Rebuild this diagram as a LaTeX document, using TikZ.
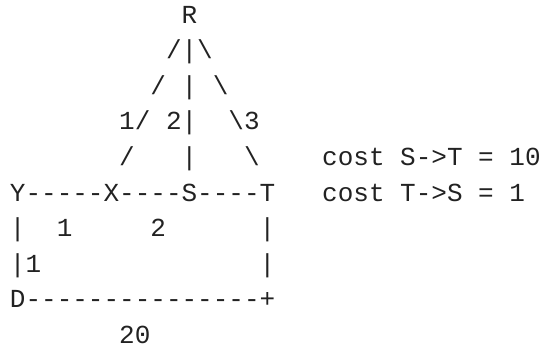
\documentclass[tikz,border=0pt]{standalone}
\usepackage{fontspec}
\newfontfamily\asciifont{Liberation Mono}
\definecolor{inkgray}{RGB}{34,34,34}

\begin{document}
\begin{tikzpicture}[x=15.6pt, y=-35.6pt,
    every node/.style={font=\asciifont\fontsize{26}{30}\selectfont, text=inkgray,
      inner sep=0pt, text height=0.62em, text depth=0pt}]
  \useasboundingbox (-1.14,0.44) rectangle (33.6,10.19);
  % the routers
  \node (R) at (11,1) {R};
  \node (Y) at (0,6) {Y};
  \node (X) at (6,6) {X};
  \node (S) at (11,6) {S};
  \node (T) at (16,6) {T};
  \node (D) at (0,9) {D};
  \node (corner) at (16,9) {+};
  % links, drawn with ascii glyphs
  \foreach \k in {1,...,4} \path (R.center) -- (X.center) node[pos=\k/5] {/};
  \foreach \k in {1,...,4} \path (R.center) -- (S.center) node[pos=\k/5] {|};
  \foreach \k in {1,...,4} \path (R.center) -- (T.center) node[pos=\k/5] {\textbackslash};
  \foreach \k in {1,...,5} \path (Y.center) -- (X.center) node[pos=\k/6] {-};
  \foreach \k in {1,...,4} \path (X.center) -- (S.center) node[pos=\k/5] {-};
  \foreach \k in {1,...,4} \path (S.center) -- (T.center) node[pos=\k/5] {-};
  \foreach \k in {1,2} \path (Y.center) -- (D.center) node[pos=\k/3] {|};
  \foreach \k in {1,2} \path (T.center) -- (corner.center) node[pos=\k/3] {|};
  \foreach \k in {1,...,15} \path (D.center) -- (corner.center) node[pos=\k/16] {-};
  % link costs
  \node (cRX) at (7,4) {1};
  \node (cRS) at (10,4) {2};
  \node (cRT) at (15,4) {3};
  \node (cYX) at (3,7) {1};
  \node (cXS) at (9,7) {2};
  \node (cYD) at (1,8) {1};
  \node (cDT) at (7.5,10) {20};
  % asymmetric cost note
  \node[anchor=west] (noteST) at (19.5,5) {cost S->T = 10};
  \node[anchor=west] (noteTS) at (19.5,6) {cost T->S = 1};
\end{tikzpicture}
\end{document}
